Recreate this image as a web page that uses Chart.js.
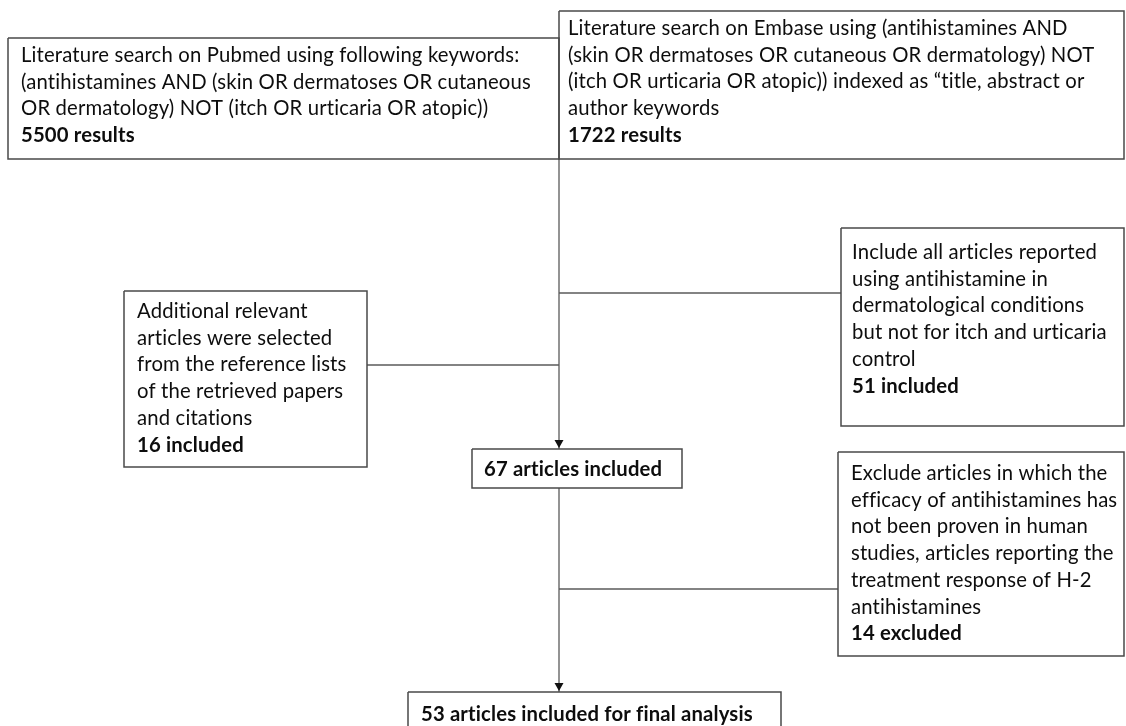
<!DOCTYPE html>
<html lang="en">
<head>
    <meta charset="UTF-8">
    <title>Flow Diagram</title>
    <script src="https://cdn.jsdelivr.net/npm/chart.js"></script>
    <style>
        * {
            margin: 0;
            padding: 0;
            box-sizing: border-box;
        }

        body {
            background-color: #ffffff;
            width: 1126px;
            height: 726px;
            overflow: hidden;
        }
    </style>
</head>
<body>
    <canvas id="flowChart" width="1126" height="726"></canvas>

    <script>
        // node texts (last line of each block is bold)
        const nodeLines = [
            ['Literature search on Pubmed using following keywords:',
             '(antihistamines AND (skin OR dermatoses OR cutaneous',
             'OR dermatology) NOT (itch OR urticaria OR atopic))',
             '5500 results'],
            ['Literature search on Embase using (antihistamines AND',
             '(skin OR dermatoses OR cutaneous OR dermatology) NOT',
             '(itch OR urticaria OR atopic)) indexed as \u201ctitle, abstract or',
             'author keywords',
             '1722 results'],
            ['Additional relevant',
             'articles were selected',
             'from the reference lists',
             'of the retrieved papers',
             'and citations',
             '16 included'],
            ['Include all articles reported',
             'using antihistamine in',
             'dermatological conditions',
             'but not for itch and urticaria',
             'control',
             '51 included'],
            ['67 articles included'],
            ['Exclude articles in which the',
             'efficacy of antihistamines has',
             'not been proven in human',
             'studies, articles reporting the',
             'treatment response of H-2',
             'antihistamines',
             '14 excluded'],
            ['53 articles included for final analysis']
        ];

        // node boxes in diagram units
        const nodeLeft   = [8,   559,  124, 841,  472, 838,  408];
        const nodeTop    = [38,  11,   291, 228,  449, 452,  692];
        const nodeRight  = [559, 1124, 367, 1124, 682, 1124, 781];
        const nodeBottom = [159, 159,  467, 426,  488, 656,  745];
        const nodeTextY  = [62,  35,   318, 259,  476, 480,  721];
        const nodeTextX  = [21,  568,  137, 852,  484, 851,  421];

        // connectors
        const linkX0 = [559, 367, 559, 559, 559];
        const linkY0 = [159, 365, 293, 488, 589];
        const linkX1 = [559, 559, 841, 559, 838];
        const linkY1 = [449, 365, 293, 692, 589];
        const linkArrow = [true, false, false, true, false];

        const lineHeight = 26.7;
        const fontSize = 20.3;
        const fontFamily = 'Lato, "Noto Sans", sans-serif';

        const boxSets = nodeLeft.map((x0, i) => ({
            type: 'scatter',
            showLine: true,
            data: [
                { x: x0, y: nodeTop[i] },
                { x: nodeRight[i], y: nodeTop[i] },
                { x: nodeRight[i], y: nodeBottom[i] },
                { x: x0, y: nodeBottom[i] },
                { x: x0, y: nodeTop[i] }
            ],
            borderColor: '#4a4a4a',
            borderWidth: 1.5,
            pointRadius: 0,
            fill: false,
            tension: 0
        }));

        const linkSets = linkX0.map((x0, i) => ({
            type: 'scatter',
            showLine: true,
            data: [
                { x: x0, y: linkY0[i] },
                { x: linkX1[i], y: linkY1[i] }
            ],
            borderColor: '#5a5a5a',
            borderWidth: 1.3,
            pointRadius: 0,
            fill: false,
            arrow: linkArrow[i]
        }));

        const textPlugin = {
            id: 'nodeText',
            afterDatasetsDraw(chart) {
                const { ctx, scales } = chart;
                ctx.save();
                ctx.fillStyle = '#0d0d0d';
                ctx.textBaseline = 'alphabetic';
                ctx.textAlign = 'left';
                // small spacing also keeps Lato from joining "ti"
                ctx.letterSpacing = '0.15px';
                nodeLines.forEach((lines, i) => {
                    const x = scales.x.getPixelForValue(nodeTextX[i]);
                    const y0 = scales.y.getPixelForValue(nodeTextY[i]);
                    lines.forEach((txt, j) => {
                        const bold = j === lines.length - 1;
                        ctx.font = (bold ? 'bold ' : '') + fontSize + 'px ' + fontFamily;
                        ctx.fillText(txt, x, y0 + j * lineHeight);
                    });
                });
                ctx.restore();
            }
        };

        const arrowPlugin = {
            id: 'arrowHeads',
            afterDatasetsDraw(chart) {
                const { ctx } = chart;
                ctx.save();
                ctx.fillStyle = '#111111';
                chart.data.datasets.forEach((ds, i) => {
                    if (!ds.arrow) return;
                    const pts = chart.getDatasetMeta(i).data;
                    const tip = pts[pts.length - 1];
                    ctx.beginPath();
                    ctx.moveTo(tip.x, tip.y - 1);
                    ctx.lineTo(tip.x - 4.5, tip.y - 9);
                    ctx.lineTo(tip.x + 4.5, tip.y - 9);
                    ctx.closePath();
                    ctx.fill();
                });
                ctx.restore();
            }
        };

        new Chart(document.getElementById('flowChart').getContext('2d'), {
            type: 'scatter',
            data: { datasets: [...boxSets, ...linkSets] },
            options: {
                responsive: false,
                animation: false,
                layout: { padding: 0 },
                scales: {
                    x: { type: 'linear', min: 0, max: 1126, display: false },
                    y: { type: 'linear', min: 0, max: 726, reverse: true, display: false }
                },
                plugins: {
                    legend: { display: false },
                    tooltip: { enabled: false }
                }
            },
            plugins: [textPlugin, arrowPlugin]
        });
    </script>
</body>
</html>
